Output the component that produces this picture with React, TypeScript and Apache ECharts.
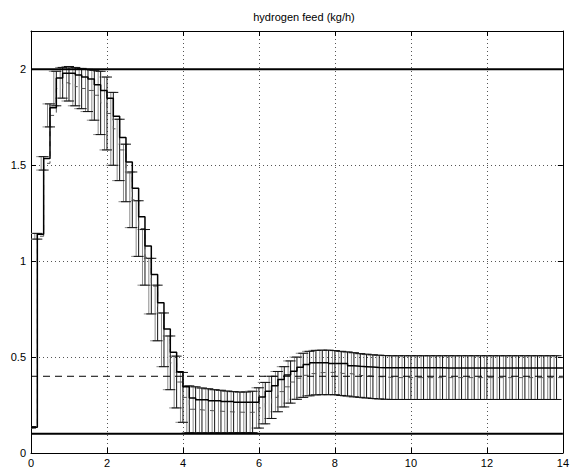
import React, { useEffect, useRef } from "react";
import * as echarts from "echarts";

const TITLE = "hydrogen feed (kg/h)";
const SAMPLE_PERIOD = 1 / 6; // hours between control moves
const X_MIN = 0;
const X_MAX = 14;
const X_INTERVAL = 2;
const Y_MIN = 0;
const Y_MAX = 2.2;
const Y_INTERVAL = 0.5;

const upperBound = 2;
const lowerBound = 0.1;
const steadyTarget = 0.4;

// nominal hydrogen feed (stairs), one value per sample
const feedStairs = [
  0.134, 1.14, 1.535, 1.8, 1.955, 1.98, 1.98, 1.97, 1.96, 1.95,
  1.92, 1.89, 1.85, 1.755, 1.645, 1.517, 1.38, 1.232, 1.079, 0.93,
  0.783, 0.647, 0.525, 0.423, 0.345, 0.287, 0.278, 0.278, 0.273, 0.273,
  0.268, 0.268, 0.264, 0.264, 0.264, 0.264, 0.292, 0.322, 0.351, 0.383,
  0.407, 0.426, 0.447, 0.461, 0.47, 0.47, 0.47, 0.466, 0.466, 0.466,
  0.455, 0.452, 0.45, 0.448, 0.446, 0.445, 0.444, 0.444, 0.444, 0.444,
  0.444, 0.444, 0.444, 0.444, 0.444, 0.443, 0.443, 0.443, 0.443, 0.443,
  0.443, 0.443, 0.443, 0.443, 0.443, 0.443, 0.443, 0.443, 0.443, 0.443,
  0.443, 0.443, 0.443, 0.443,
];

// Monte Carlo mean of the feed (error bar centres)
const feedMean = [
  0.134, 1.13, 1.51, 1.76, 1.9, 1.93, 1.925, 1.91, 1.9, 1.89,
  1.865, 1.825, 1.77, 1.69, 1.58, 1.46, 1.32, 1.17, 1.02, 0.87,
  0.73, 0.59, 0.47, 0.37, 0.29, 0.228, 0.225, 0.222, 0.22, 0.218,
  0.216, 0.214, 0.213, 0.212, 0.212, 0.214, 0.235, 0.26, 0.29, 0.32,
  0.345, 0.37, 0.39, 0.405, 0.414, 0.419, 0.42, 0.42, 0.419, 0.415,
  0.412, 0.408, 0.404, 0.401, 0.398, 0.396, 0.394, 0.393, 0.393, 0.393,
  0.393, 0.393, 0.393, 0.393, 0.393, 0.393, 0.393, 0.393, 0.393, 0.393,
  0.393, 0.393, 0.393, 0.393, 0.393, 0.393, 0.393, 0.393, 0.393, 0.393,
  0.393, 0.393, 0.393, 0.393,
];

// Monte Carlo standard deviation (error bar half height)
const feedStd = [
  0.004, 0.015, 0.035, 0.06, 0.09, 0.08, 0.09, 0.1, 0.105, 0.11,
  0.13, 0.165, 0.19, 0.19, 0.16, 0.15, 0.145, 0.145, 0.145, 0.145,
  0.145, 0.14, 0.14, 0.135, 0.13, 0.122, 0.12, 0.117, 0.115, 0.112,
  0.111, 0.109, 0.107, 0.106, 0.106, 0.108, 0.105, 0.108, 0.11, 0.105,
  0.105, 0.11, 0.11, 0.115, 0.116, 0.116, 0.116, 0.116, 0.115, 0.115,
  0.115, 0.115, 0.114, 0.114, 0.114, 0.114, 0.114, 0.114, 0.114, 0.114,
  0.114, 0.114, 0.114, 0.114, 0.114, 0.114, 0.114, 0.114, 0.114, 0.114,
  0.114, 0.114, 0.114, 0.114, 0.114, 0.114, 0.114, 0.114, 0.114, 0.114,
  0.114, 0.114, 0.114, 0.114,
];

const FONT = "'Liberation Sans', Arial, Helvetica, sans-serif";

function errorBarSeries(name: string, data: number[][], color: string, offsetPx: number, z: number) {
  return {
    name,
    type: "custom",
    clip: true,
    data,
    encode: { x: 0, y: [1, 2] },
    renderItem: (_params: any, api: any) => {
      const x = api.value(0);
      const lo = api.coord([x, api.value(1)]);
      const hi = api.coord([x, api.value(2)]);
      const hw = 5;
      const cx = lo[0] + offsetPx;
      const style = { stroke: color, lineWidth: 1 };
      return {
        type: "group",
        children: [
          { type: "line", shape: { x1: cx, y1: lo[1], x2: cx, y2: hi[1] }, style },
          { type: "line", shape: { x1: cx - hw, y1: hi[1], x2: cx + hw, y2: hi[1] }, style },
          { type: "line", shape: { x1: cx - hw, y1: lo[1], x2: cx + hw, y2: lo[1] }, style },
        ],
      };
    },
    z,
  };
}

export default function App() {
  const ref = useRef<HTMLDivElement>(null);

  useEffect(() => {
    document.body.style.margin = "0";
    const chart = echarts.init(ref.current!, null, { renderer: "svg" });

    const times = feedStairs.map((_, k) => k * SAMPLE_PERIOD);
    const stairData: number[][] = feedStairs.map((v, k) => [times[k], v]);
    stairData.push([X_MAX, feedStairs[feedStairs.length - 1]]);
    const errData = feedMean.map((m, k) => [times[k], m - feedStd[k], m + feedStd[k]]);
    const meanData: number[][] = feedMean.map((m, k) => [times[k], m]);
    meanData.push([X_MAX, feedMean[feedMean.length - 1]]);

    const axisCommonX = {
      type: "value" as const,
      min: X_MIN,
      max: X_MAX,
      interval: X_INTERVAL,
      axisLine: { show: true, onZero: false, lineStyle: { color: "#000", width: 1 } },
      axisTick: { show: true, inside: true, length: 5, lineStyle: { color: "#000" } },
    };
    const axisCommonY = {
      type: "value" as const,
      min: Y_MIN,
      max: Y_MAX,
      interval: Y_INTERVAL,
      axisLine: { show: true, onZero: false, lineStyle: { color: "#000", width: 1 } },
      axisTick: { show: true, inside: true, length: 5, lineStyle: { color: "#000" } },
    };

    chart.setOption({
      animation: false,
      backgroundColor: "#fff",
      title: {
        text: TITLE,
        left: 299,
        top: 6,
        textAlign: "center",
        textStyle: { fontSize: 11, fontWeight: "normal", color: "#000", fontFamily: FONT },
      },
      grid: { left: 31, right: 5, top: 31, bottom: 18, containLabel: false },
      xAxis: [
        {
          ...axisCommonX,
          position: "bottom",
          axisLabel: { color: "#000", fontSize: 11, margin: 4, fontFamily: FONT },
          splitLine: { show: true, lineStyle: { color: "#555", type: [1, 3], width: 1 } },
        },
        {
          ...axisCommonX,
          position: "top",
          axisLabel: { show: false },
          splitLine: { show: false },
        },
      ],
      yAxis: [
        {
          ...axisCommonY,
          position: "left",
          axisLabel: {
            color: "#000",
            fontSize: 11,
            margin: 5,
            fontFamily: FONT,
            showMaxLabel: false,
          },
          splitLine: { show: true, lineStyle: { color: "#555", type: [1, 3], width: 1 } },
        },
        {
          ...axisCommonY,
          position: "right",
          axisLabel: { show: false },
          splitLine: { show: false },
        },
      ],
      series: [
        {
          name: "lower bound",
          type: "line",
          data: [[X_MIN, lowerBound], [X_MAX, lowerBound]],
          symbol: "none",
          lineStyle: { color: "#000", width: 2 },
          z: 5,
        },
        {
          name: "upper bound",
          type: "line",
          data: [[X_MIN, upperBound], [X_MAX, upperBound]],
          symbol: "none",
          lineStyle: { color: "#000", width: 2 },
          z: 5,
        },
        {
          name: "target",
          type: "line",
          data: [[X_MIN, steadyTarget], [X_MAX, steadyTarget]],
          symbol: "none",
          lineStyle: { color: "#000", width: 1, type: [7, 5] },
          z: 4,
        },
        errorBarSeries("error bars (shadow)", errData, "#8a8a8a", -2.5, 2),
        errorBarSeries("error bars", errData, "#111", 0, 3),
        {
          name: "mean",
          type: "line",
          step: "end",
          data: meanData,
          symbol: "none",
          lineStyle: { color: "#555", width: 1, type: [5, 5] },
          z: 3,
        },
        {
          name: "feed",
          type: "line",
          step: "end",
          data: stairData,
          symbol: "none",
          lineStyle: { color: "#000", width: 1.5 },
          z: 6,
        },
      ],
    });

    return () => chart.dispose();
  }, []);

  return <div ref={ref} style={{ width: 572, height: 471 }} />;
}
